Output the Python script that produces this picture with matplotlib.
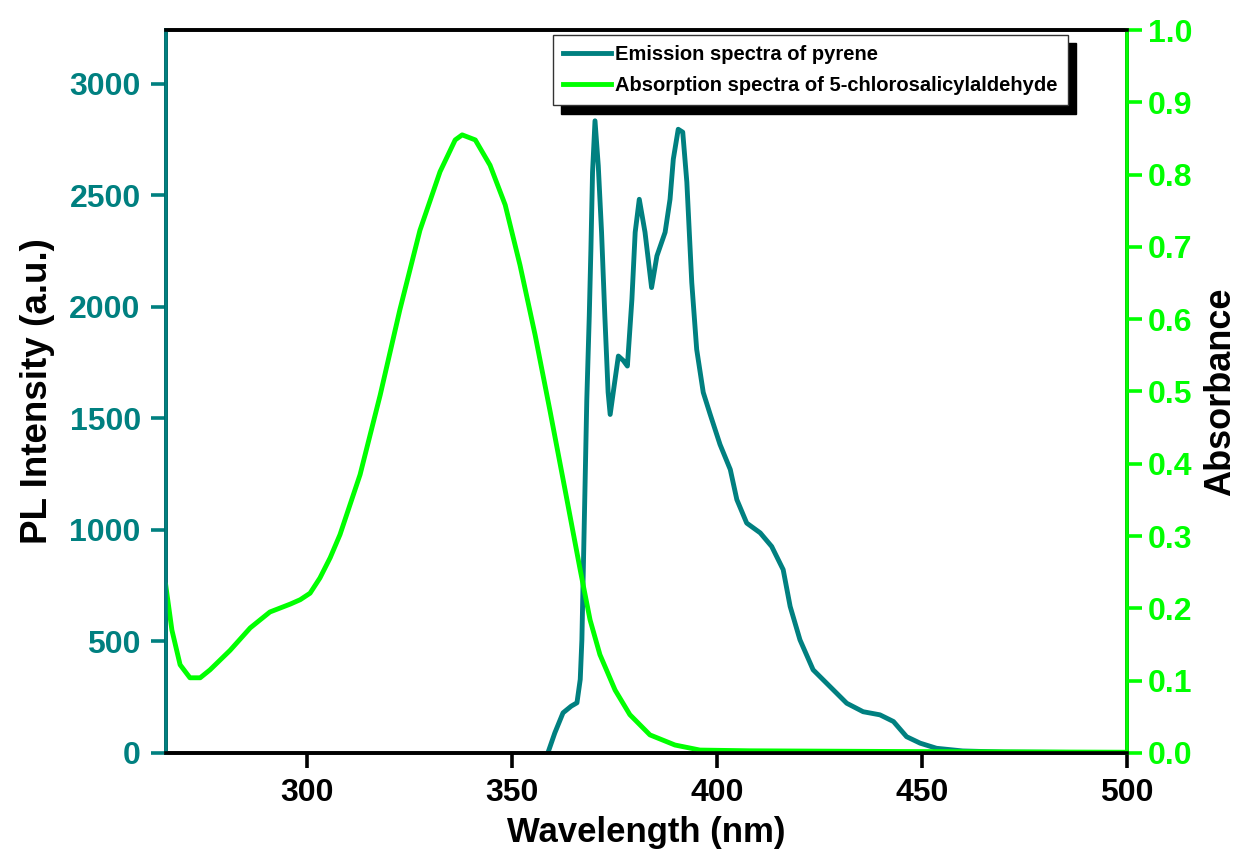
# pyrene emission vs 5-chlorosalicylaldehyde absorption (spectral overlap)
import matplotlib
matplotlib.use('Agg')
import matplotlib.pyplot as plt
import numpy as np

plt.rcParams['font.family'] = ['Liberation Sans', 'DejaVu Sans']
plt.rcParams['font.weight'] = 'bold'

teal = '#008080'
lime = '#00ff00'

# emission of pyrene (nm, a.u.)
em_wl = [358.8, 360.5, 362.5, 364.5, 365.9, 366.7, 367.1, 368.3, 368.9, 369.3, 369.7, 370.3,
         371.1, 371.9, 372.7, 373.5, 374.0, 375.0, 376.0, 377.2, 378.2, 379.3, 380.1,
         381.1, 382.5, 384.1, 385.4, 387.4, 388.6, 389.4, 390.6, 391.7, 392.7,
         393.9, 395.1, 396.7, 398.4, 400.8, 403.3, 404.9, 407.3, 410.6, 413.4,
         416.2, 417.9, 420.3, 423.5, 427.6, 431.7, 435.7, 439.8, 443.1, 446.3,
         449.6, 453.6, 460.0, 470.0, 480.0, 490.0, 500.0]
em_int = [0, 90, 180, 210, 225, 330, 507, 1585, 1959, 2259, 2604, 2835,
          2633, 2335, 1959, 1617, 1518, 1650, 1780, 1760, 1735, 2034, 2335,
          2483, 2335, 2087, 2229, 2335, 2483, 2663, 2797, 2784, 2560,
          2110, 1810, 1617, 1518, 1383, 1271, 1136, 1031, 987, 926,
          822, 657, 507, 373, 298, 223, 185, 171, 141, 73,
          44, 21, 9, 4, 3, 2, 2]

# absorption of 5-chlorosalicylaldehyde (nm, absorbance)
ab_wl = [265.6, 267.1, 269.1, 271.5, 274.0, 276.4, 281.3, 286.2, 291.0, 296.0,
         298.4, 300.8, 303.2, 305.7, 308.1, 313.0, 317.9, 322.7, 327.6, 332.5,
         336.2, 337.9, 341.1, 344.7, 348.4, 352.0, 355.7, 359.3, 363.0, 366.7,
         369.1, 371.5, 375.2, 378.8, 383.7, 389.8, 395.9, 408.0, 444.7, 500.0]
ab_val = [0.232, 0.170, 0.122, 0.104, 0.104, 0.115, 0.142, 0.173, 0.195, 0.206,
          0.212, 0.221, 0.242, 0.270, 0.302, 0.385, 0.495, 0.613, 0.723, 0.804,
          0.848, 0.855, 0.848, 0.813, 0.758, 0.675, 0.578, 0.474, 0.364, 0.253,
          0.184, 0.136, 0.087, 0.053, 0.025, 0.011, 0.004, 0.003, 0.002, 0.001]

fig = plt.figure(figsize=(12.5, 8.63), dpi=100)
ax = fig.add_axes([0.1326, 0.1275, 0.7688, 0.8377])
ax2 = ax.twinx()

l1, = ax.plot(em_wl, em_int, color=teal, lw=3.5, label='Emission spectra of pyrene')
l2, = ax2.plot(ab_wl, ab_val, color=lime, lw=3.5,
               label='Absorption spectra of 5-chlorosalicylaldehyde')

ax.set_xlim(265.6, 500)
ax.set_ylim(0, 3242)
ax2.set_ylim(0, 1.0)
ax.set_xticks([300, 350, 400, 450, 500])
ax.set_yticks(np.arange(0, 3001, 500))
ax2.set_yticks(np.arange(0, 1.01, 0.1))
ax2.set_yticklabels(['{:.1f}'.format(v) for v in np.arange(0, 1.01, 0.1)])

for a in (ax, ax2):
    for s in a.spines.values():
        s.set_linewidth(2.6)
ax2.spines['left'].set_color(teal)
ax2.spines['right'].set_color(lime)
ax2.spines['top'].set_color('black')
ax2.spines['bottom'].set_color('black')

ax.tick_params(axis='x', direction='out', length=11, width=2.6, labelsize=23, pad=7)
ax.tick_params(axis='y', direction='out', length=11, width=2.6, labelsize=23,
               pad=7, color=teal, labelcolor=teal)
ax2.tick_params(axis='y', direction='out', length=11, width=2.6, labelsize=23,
                pad=4, color=lime, labelcolor=lime)

ax.set_xlabel('Wavelength (nm)', fontsize=25, fontweight='bold', labelpad=6)
ax.set_ylabel('PL Intensity (a.u.)', fontsize=26.5, fontweight='bold', labelpad=10)
ax2.set_ylabel('Absorbance', fontsize=26, fontweight='bold', labelpad=8)

leg = ax2.legend([l1, l2], [l1.get_label(), l2.get_label()],
                 loc='upper left', bbox_to_anchor=(0.403, 0.993), borderaxespad=0,
                 fontsize=14.5, fancybox=False, framealpha=1,
                 edgecolor='#333333', handlelength=2.4, handletextpad=0.2,
                 labelspacing=0.6, borderpad=0.5,
                 shadow={'ox': 6, 'oy': -6, 'color': 'black', 'alpha': 1})
leg.get_frame().set_linewidth(1.0)
for t in leg.get_texts():
    t.set_fontweight('bold')

fig.savefig('out.png', dpi=100)
